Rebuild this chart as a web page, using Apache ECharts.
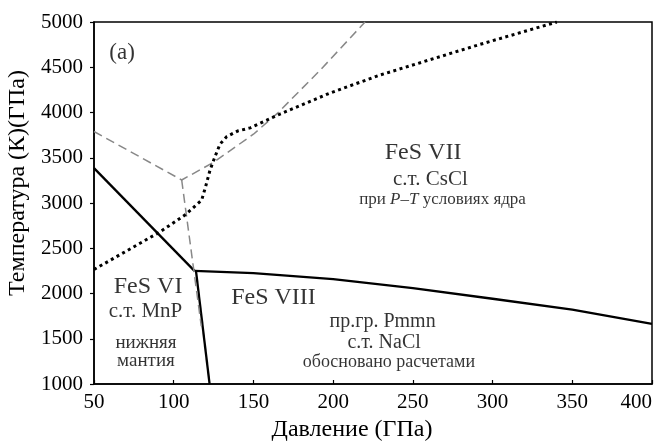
<!DOCTYPE html>
<html><head><meta charset="utf-8">
<script src="https://cdn.jsdelivr.net/npm/echarts@6/dist/echarts.min.js"></script>
<style>html,body{margin:0;padding:0;background:#fff}#c{width:656px;height:443px}</style>
</head><body><div id="c"></div>
<script>
// ---- data (pressure GPa, temperature K) ----
const xTickMin = 50, xTickMax = 400, xTickStep = 50;
const yTickMin = 1000, yTickMax = 5000, yTickStep = 500;

// solid boundaries
const solidVIVII = [[50, 3385], [113, 2250]];
const solidVIVIII = [[114, 2245], [122.5, 1000]];
const solidVIIIVII = [[113, 2250], [150, 2225], [200, 2158], [250, 2060], [300, 1942], [350, 1822], [400, 1665]];
// dashed (grey) boundaries
const dashedUpper = [[50, 3790], [105, 3254], [125, 3450], [150, 3760], [165, 3990], [192, 4470], [220, 5000]];
const dashedLower = [[105, 3254], [112.3, 2296], [117.3, 1640]];
// dotted boundary
const dotted = [[50, 2265], [91.6, 2683], [107, 2867], [113, 2960], [117.5, 3030], [120, 3180], [122.8, 3365],
  [125.9, 3512], [129, 3650], [133.2, 3733], [140, 3795], [148, 3830], [167, 3985], [198, 4215],
  [229.4, 4414], [292.2, 4753], [340.3, 5000]];

// annotation texts
const labelTexts = ['(a)', 'FeS VII', 'с.т. CsCl', '{n|при }{i|P}{n|–}{i|T}{n| условиях ядра}',
  'FeS VI', 'с.т. MnP', 'нижняя', 'мантия',
  'FeS VIII', 'пр.гр. Pmmn', 'с.т. NaCl', 'обосновано расчетами'];
const xTitle = 'Давление (ГПа)';
const yTitle = 'Температура (К)(ГПа)';

// ---- layout / styling ----
const FONT = "'Liberation Serif','Times New Roman',serif";
const labelAnchors = [[67.6, 4657], [256.4, 3552], [261, 3265], [268.6, 3033],
  [83.9, 2072], [82.3, 1796], [82.6, 1453], [82.6, 1254],
  [162.6, 1950], [231, 1685], [232, 1453], [235, 1243]];
const labelSizes = [23, 24, 21, 17, 24, 21, 19, 19, 24, 20, 20, 18];

const annData = labelTexts.map((t, i) => ({
  value: labelAnchors[i],
  label: { formatter: t, fontSize: labelSizes[i] }
}));

const line = (data, style) => ({ type: 'line', data, symbol: 'none', silent: true, animation: false,
  lineStyle: style, z: 3 });

const chart = echarts.init(document.getElementById('c'), null, { renderer: 'canvas' });
chart.setOption({
  animation: false,
  backgroundColor: '#fff',
  grid: { left: 94, right: 4, top: 22, bottom: 59, show: true, borderColor: '#000', borderWidth: 1.5,
    backgroundColor: 'transparent', outerBoundsMode: 'none', containLabel: false },
  xAxis: {
    type: 'value', min: xTickMin, max: xTickMax, interval: xTickStep,
    axisLine: { show: true, lineStyle: { color: '#000', width: 1.5 } },
    axisTick: { show: true, inside: true, length: 4, lineStyle: { color: '#000', width: 1.2 } },
    splitLine: { show: false },
    axisLabel: { color: '#000', fontFamily: FONT, fontSize: 21, margin: 8, alignMaxLabel: 'right',
      formatter: v => String(v) },
    name: xTitle, nameLocation: 'middle', nameGap: 32,
    nameTextStyle: { color: '#000', fontFamily: FONT, fontSize: 24, padding: [0, 42, 0, 0] }
  },
  yAxis: {
    type: 'value', min: yTickMin, max: yTickMax, interval: yTickStep,
    axisLine: { show: true, lineStyle: { color: '#000', width: 1.5 } },
    axisTick: { show: true, inside: false, length: 4, lineStyle: { color: '#000', width: 1.2 } },
    splitLine: { show: false },
    axisLabel: { color: '#000', fontFamily: FONT, fontSize: 21, margin: 11, formatter: v => String(v) },
    name: yTitle, nameLocation: 'middle', nameGap: 62,
    nameTextStyle: { color: '#000', fontFamily: FONT, fontSize: 24, padding: [0, 0, 0, 40] }
  },
  series: [
    line(solidVIVII, { color: '#000', width: 2.3 }),
    line(solidVIVIII, { color: '#000', width: 2.3 }),
    line(solidVIIIVII, { color: '#000', width: 2.3 }),
    line(dashedUpper, { color: '#888', width: 1.5, type: [9, 5] }),
    line(dashedLower, { color: '#888', width: 1.5, type: [9, 5] }),
    line(dotted, { color: '#000', width: 3, type: [3, 3.5] }),
    {
      type: 'scatter', data: annData, symbolSize: 0, silent: true, z: 5,
      label: { show: true, position: 'inside', color: '#000', fontFamily: FONT, align: 'center', verticalAlign: 'middle',
        rich: { n: { fontFamily: FONT, fontSize: 17, color: '#000' }, i: { fontFamily: FONT, fontSize: 17, fontStyle: 'italic', color: '#000' } } }
    }
  ]
});
</script>
</body></html>
